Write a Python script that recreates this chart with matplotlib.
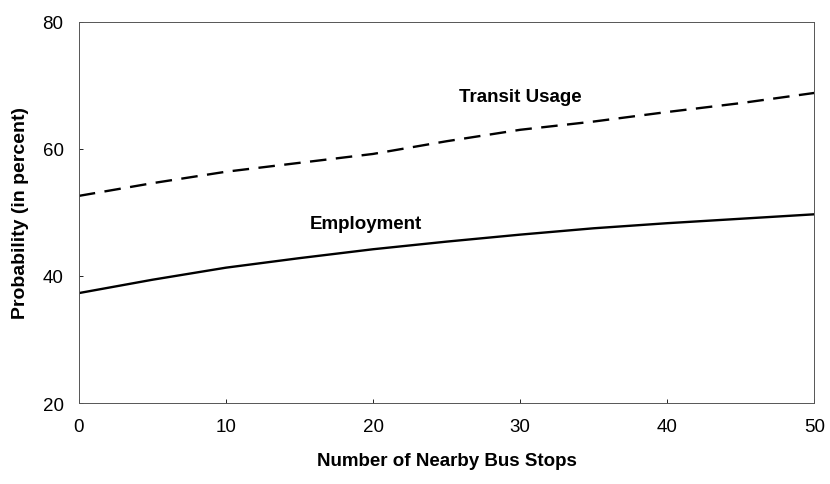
import matplotlib
matplotlib.use('Agg')
import matplotlib.pyplot as plt

plt.rcParams['font.family'] = ['Liberation Sans', 'DejaVu Sans']

# Data
bus_stops = [0, 5, 10, 15, 20, 25, 30, 35, 40, 45, 50]
transit_usage = [52.6, 54.6, 56.4, 57.8, 59.2, 61.2, 63.0, 64.3, 65.8, 67.2, 68.8]
employment = [37.3, 39.4, 41.3, 42.8, 44.2, 45.4, 46.5, 47.5, 48.3, 49.0, 49.7]

x_ticks = [0, 10, 20, 30, 40, 50]
y_ticks = [20, 40, 60, 80]

fig = plt.figure(figsize=(8.3, 4.85), dpi=100)
ax = fig.add_axes([0.095, 0.167, 0.886, 0.786])

ax.plot(bus_stops, transit_usage, color='black', lw=1.7, ls=(0, (7, 4)))
ax.plot(bus_stops, employment, color='black', lw=1.7)

ax.text(30, 68.3, 'Transit Usage', ha='center', va='center', fontsize=13.5, fontweight='bold')
ax.text(19.5, 48.3, 'Employment', ha='center', va='center', fontsize=13.5, fontweight='bold')

ax.set_xlim(0, 50)
ax.set_ylim(20, 80)
ax.set_xticks(x_ticks)
ax.set_yticks(y_ticks)
ax.tick_params(direction='in', length=3, width=0.6, labelsize=13.5, pad=11)
for s in ax.spines.values():
    s.set_linewidth(0.7)
    s.set_color('#555555')

ax.set_xlabel('Number of Nearby Bus Stops', fontsize=13.5, fontweight='bold', labelpad=12)
ax.set_ylabel('Probability (in percent)', fontsize=14, fontweight='bold', labelpad=10)

fig.savefig('out.png', dpi=100)
